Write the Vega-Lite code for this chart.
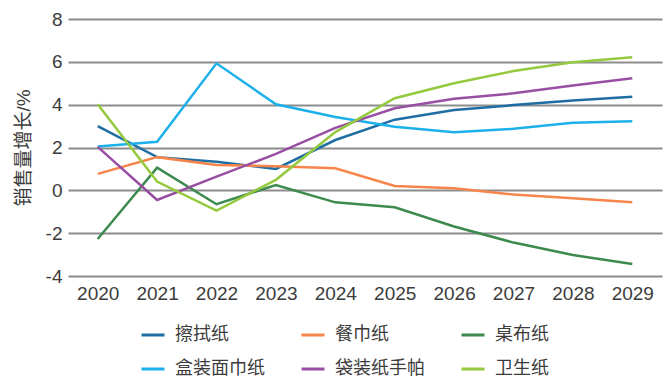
{
  "$schema": "https://vega.github.io/schema/vega-lite/v6.json",
  "width": 594,
  "height": 257,
  "autosize": {"type": "none"},
  "padding": {"left": 68, "top": 19, "right": 4, "bottom": 105},
  "background": "white",
  "config": {
    "view": {"stroke": null},
    "font": "Liberation Sans, Noto Sans CJK SC"
  },
  "data": {
    "values": [
      {"year": "2020", "series": "擦拭纸", "value": 3.0},
      {"year": "2021", "series": "擦拭纸", "value": 1.55},
      {"year": "2022", "series": "擦拭纸", "value": 1.33},
      {"year": "2023", "series": "擦拭纸", "value": 1.0},
      {"year": "2024", "series": "擦拭纸", "value": 2.35},
      {"year": "2025", "series": "擦拭纸", "value": 3.3},
      {"year": "2026", "series": "擦拭纸", "value": 3.75},
      {"year": "2027", "series": "擦拭纸", "value": 3.98},
      {"year": "2028", "series": "擦拭纸", "value": 4.2},
      {"year": "2029", "series": "擦拭纸", "value": 4.37},
      {"year": "2020", "series": "餐巾纸", "value": 0.77},
      {"year": "2021", "series": "餐巾纸", "value": 1.55},
      {"year": "2022", "series": "餐巾纸", "value": 1.18},
      {"year": "2023", "series": "餐巾纸", "value": 1.13},
      {"year": "2024", "series": "餐巾纸", "value": 1.03},
      {"year": "2025", "series": "餐巾纸", "value": 0.2},
      {"year": "2026", "series": "餐巾纸", "value": 0.1},
      {"year": "2027", "series": "餐巾纸", "value": -0.2},
      {"year": "2028", "series": "餐巾纸", "value": -0.37},
      {"year": "2029", "series": "餐巾纸", "value": -0.56},
      {"year": "2020", "series": "桌布纸", "value": -2.27},
      {"year": "2021", "series": "桌布纸", "value": 1.06},
      {"year": "2022", "series": "桌布纸", "value": -0.65},
      {"year": "2023", "series": "桌布纸", "value": 0.25},
      {"year": "2024", "series": "桌布纸", "value": -0.56},
      {"year": "2025", "series": "桌布纸", "value": -0.79},
      {"year": "2026", "series": "桌布纸", "value": -1.69},
      {"year": "2027", "series": "桌布纸", "value": -2.44},
      {"year": "2028", "series": "桌布纸", "value": -3.02},
      {"year": "2029", "series": "桌布纸", "value": -3.44},
      {"year": "2020", "series": "盒装面巾纸", "value": 2.05},
      {"year": "2021", "series": "盒装面巾纸", "value": 2.27},
      {"year": "2022", "series": "盒装面巾纸", "value": 5.93},
      {"year": "2023", "series": "盒装面巾纸", "value": 4.02},
      {"year": "2024", "series": "盒装面巾纸", "value": 3.42},
      {"year": "2025", "series": "盒装面巾纸", "value": 2.97},
      {"year": "2026", "series": "盒装面巾纸", "value": 2.71},
      {"year": "2027", "series": "盒装面巾纸", "value": 2.87},
      {"year": "2028", "series": "盒装面巾纸", "value": 3.16},
      {"year": "2029", "series": "盒装面巾纸", "value": 3.22},
      {"year": "2020", "series": "袋装纸手帕", "value": 2.03},
      {"year": "2021", "series": "袋装纸手帕", "value": -0.45},
      {"year": "2022", "series": "袋装纸手帕", "value": 0.64},
      {"year": "2023", "series": "袋装纸手帕", "value": 1.7},
      {"year": "2024", "series": "袋装纸手帕", "value": 2.92},
      {"year": "2025", "series": "袋装纸手帕", "value": 3.83},
      {"year": "2026", "series": "袋装纸手帕", "value": 4.28},
      {"year": "2027", "series": "袋装纸手帕", "value": 4.53},
      {"year": "2028", "series": "袋装纸手帕", "value": 4.89},
      {"year": "2029", "series": "袋装纸手帕", "value": 5.23},
      {"year": "2020", "series": "卫生纸", "value": 4.02},
      {"year": "2021", "series": "卫生纸", "value": 0.41},
      {"year": "2022", "series": "卫生纸", "value": -0.95},
      {"year": "2023", "series": "卫生纸", "value": 0.49},
      {"year": "2024", "series": "卫生纸", "value": 2.72},
      {"year": "2025", "series": "卫生纸", "value": 4.3},
      {"year": "2026", "series": "卫生纸", "value": 5.0},
      {"year": "2027", "series": "卫生纸", "value": 5.57},
      {"year": "2028", "series": "卫生纸", "value": 5.98},
      {"year": "2029", "series": "卫生纸", "value": 6.21}
    ]
  },
  "mark": {"type": "line", "strokeWidth": 2.5},
  "encoding": {
    "x": {
      "field": "year",
      "type": "ordinal",
      "scale": {"type": "point", "padding": 0.5},
      "axis": {
        "title": null,
        "labelAngle": 0,
        "ticks": false,
        "domain": false,
        "grid": false,
        "labelFontSize": 19,
        "labelPadding": 8,
        "labelColor": "#3c3c3c"
      }
    },
    "y": {
      "field": "value",
      "type": "quantitative",
      "scale": {"domain": [-4, 8]},
      "axis": {
        "values": [-4, -2, 0, 2, 4, 6, 8],
        "labelExpr": "replace(datum.label, '−', '-')",
        "title": "销售量增长/%",
        "titleFontSize": 19,
        "titleFontWeight": "normal",
        "titleColor": "#3c3c3c",
        "titleX": -45,
        "titleY": 128.5,
        "titleBaseline": "middle",
        "titleAlign": "center",
        "ticks": false,
        "domain": false,
        "labelFontSize": 19,
        "labelPadding": 6,
        "labelColor": "#3c3c3c",
        "gridColor": "#8c8c8c",
        "gridWidth": 2,
        "gridOpacity": 1
      }
    },
    "color": {
      "field": "series",
      "type": "nominal",
      "scale": {
        "domain": ["擦拭纸", "餐巾纸", "桌布纸", "盒装面巾纸", "袋装纸手帕", "卫生纸"],
        "range": ["#1f6ea3", "#f7844a", "#3c8a4e", "#1cb0ea", "#984ea3", "#95c93e"]
      },
      "legend": {
        "title": null,
        "orient": "none",
        "legendX": 72,
        "legendY": 303,
        "columns": 3,
        "direction": "horizontal",
        "symbolType": "stroke",
        "symbolSize": 529,
        "symbolStrokeWidth": 3,
        "labelFontSize": 18,
        "labelColor": "#3c3c3c",
        "labelOffset": 9,
        "columnPadding": 30,
        "rowPadding": 12
      }
    }
  }
}
